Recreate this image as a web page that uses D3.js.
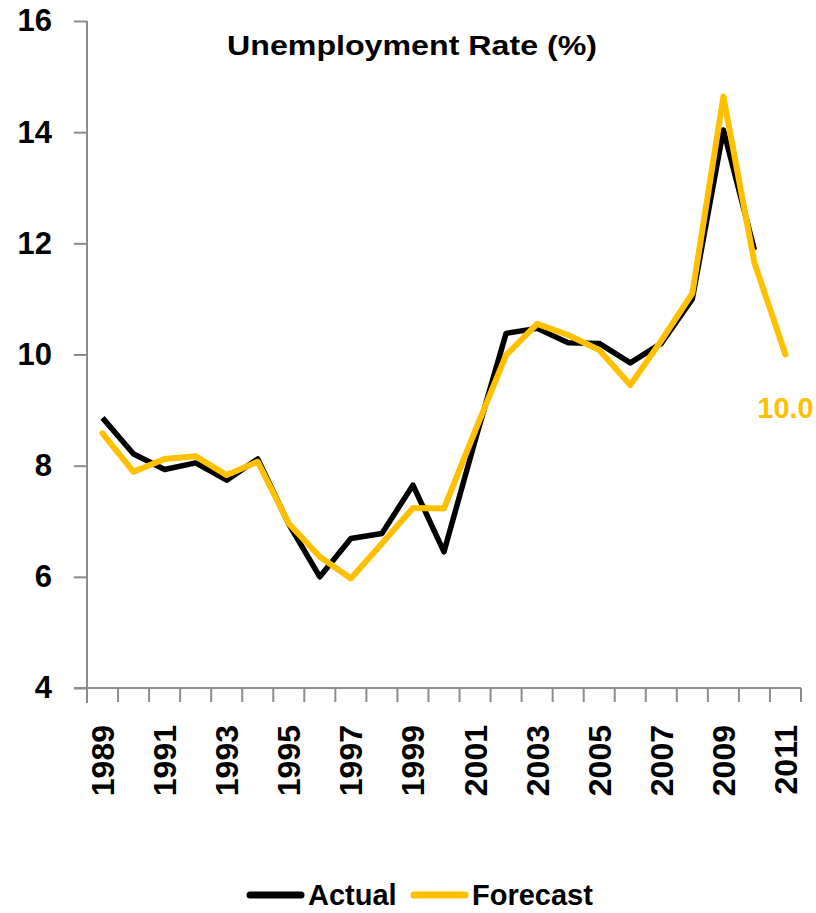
<!DOCTYPE html>
<html>
<head>
<meta charset="utf-8">
<script src="https://cdn.jsdelivr.net/npm/d3@7"></script>
<style>
  body { margin: 0; background: #fff; }
  svg { display: block; }
</style>
</head>
<body>
<div id="chart"></div>
<script>
const years = d3.range(1989, 2012);
const yearLabels = years.filter((y, i) => i % 2 === 0);
const actual = [8.86, 8.21, 7.93, 8.05, 7.74, 8.12, 6.95, 6.0, 6.69, 6.78, 7.65, 6.45,
    8.45, 10.38, 10.47, 10.21, 10.2, 9.85, 10.2, 11.0, 14.04, 11.88, null];
const forecast = [8.58, 7.89, 8.12, 8.17, 7.83, 8.07, 6.96, 6.36, 5.97, 6.6, 7.24, 7.23,
    8.62, 9.99, 10.55, 10.35, 10.08, 9.45, 10.25, 11.1, 14.64, 11.65, 10.0];
const yTicks = [4, 6, 8, 10, 12, 14, 16];
const lastLabel = "10.0";

const W = 816, H = 913;
const axisColor = "#8c8c8c";
const gold = "#ffc000";

const svg = d3.select("#chart").append("svg")
    .attr("width", W)
    .attr("height", H);

const x = d3.scaleBand().domain(years).range([87, 801]).padding(0);
const y = d3.scaleLinear().domain([4, 16]).range([688, 21]);

// y axis
const yAxis = svg.append("g")
    .attr("transform", "translate(87,0)")
    .call(d3.axisLeft(y).tickValues(yTicks).tickSize(13).tickPadding(22).tickFormat(d3.format("d")));
yAxis.select(".domain").attr("stroke", axisColor).attr("stroke-width", 2).attr("d", "M0,21V703");
yAxis.selectAll(".tick line").attr("stroke", axisColor).attr("stroke-width", 2);
yAxis.selectAll(".tick text")
    .attr("font-family", "'Liberation Sans', Arial, sans-serif")
    .attr("font-weight", "bold")
    .attr("font-size", 31)
    .attr("fill", "#000");

// x axis: line, boundary ticks, rotated labels
const xAxis = svg.append("g");
xAxis.append("line")
    .attr("x1", 74).attr("x2", 801)
    .attr("y1", 688).attr("y2", 688)
    .attr("stroke", axisColor).attr("stroke-width", 2);
const bounds = years.map(d => x(d)).concat([x.range()[1]]);
xAxis.selectAll("line.tk")
    .data(bounds)
    .join("line")
    .attr("class", "tk")
    .attr("x1", d => d).attr("x2", d => d)
    .attr("y1", 688).attr("y2", 702)
    .attr("stroke", axisColor).attr("stroke-width", 2);
xAxis.selectAll("text")
    .data(yearLabels)
    .join("text")
    .attr("transform", d => `translate(${x(d) + x.bandwidth() / 2},725) rotate(-90)`)
    .attr("text-anchor", "end")
    .attr("dy", "0.36em")
    .attr("font-family", "'Liberation Sans', Arial, sans-serif")
    .attr("font-weight", "bold")
    .attr("font-size", 32)
    .text(d => d);

// lines
const line = d3.line()
    .defined(d => d[1] != null)
    .x(d => x(d[0]) + x.bandwidth() / 2)
    .y(d => y(d[1]));

svg.append("path")
    .datum(years.map((yr, i) => [yr, actual[i]]))
    .attr("fill", "none")
    .attr("stroke", "#000")
    .attr("stroke-width", 5.5)
    .attr("stroke-linejoin", "round")
    .attr("d", line);

svg.append("path")
    .datum(years.map((yr, i) => [yr, forecast[i]]))
    .attr("fill", "none")
    .attr("stroke", gold)
    .attr("stroke-width", 6)
    .attr("stroke-linejoin", "round")
    .attr("stroke-linecap", "round")
    .attr("d", line);

// end label
svg.append("text")
    .attr("x", x(2011) + x.bandwidth() / 2)
    .attr("y", 418)
    .attr("text-anchor", "middle")
    .attr("font-family", "'Liberation Sans', Arial, sans-serif")
    .attr("font-weight", "bold")
    .attr("font-size", 29)
    .attr("fill", gold)
    .text(lastLabel);

// title
svg.append("text")
    .attr("x", 227)
    .attr("y", 55)
    .attr("textLength", 370)
    .attr("lengthAdjust", "spacingAndGlyphs")
    .attr("font-family", "'Liberation Sans', Arial, sans-serif")
    .attr("font-weight", "bold")
    .attr("font-size", 27)
    .text("Unemployment Rate (%)");

// legend
const legend = svg.append("g").attr("transform", "translate(0,895)");
const items = [
    { name: "Actual", color: "#000", x: 248 },
    { name: "Forecast", color: gold, x: 412 }
];
items.forEach(it => {
    legend.append("line")
        .attr("x1", it.x + 2).attr("x2", it.x + 53)
        .attr("stroke", it.color)
        .attr("stroke-width", 7)
        .attr("stroke-linecap", "round");
    legend.append("text")
        .attr("x", it.x + 60)
        .attr("y", 10)
        .attr("font-family", "'Liberation Sans', Arial, sans-serif")
        .attr("font-weight", "bold")
        .attr("font-size", 29)
        .text(it.name);
});
</script>
</body>
</html>
